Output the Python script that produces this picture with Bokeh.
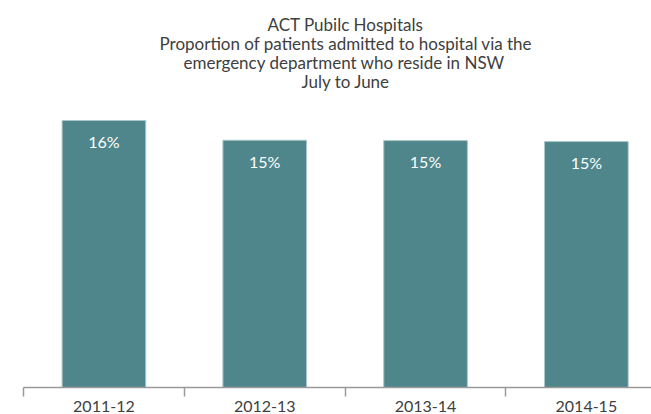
from bokeh.plotting import figure
from bokeh.models import ColumnDataSource, FixedTicker, LabelSet, Range1d, Title
from bokeh.core.properties import value
from bokeh.embed import file_html
from bokeh.resources import INLINE

# ---- data ----
years = ["2011-12", "2012-13", "2013-14", "2014-15"]
share_nsw = [0.162, 0.150, 0.1498, 0.1492]
title_lines = [
    "ACT Pubilc Hospitals",
    "Proportion of patients admitted to hospital via the",
    "emergency department who reside in NSW",
    "July to June",
]

BAR = "#4E868B"
TXT = "#404040"
FONT = "Lato"

pos = [i + 0.5 for i in range(len(years))]
labels = [f"{round(v * 100)}%" for v in share_nsw]
src = ColumnDataSource(dict(x=pos, top=share_nsw, label=labels))

p = figure(width=651, height=414, output_backend="svg", toolbar_location=None,
           x_range=Range1d(0, 3.905), y_range=Range1d(0, 0.1808),
           y_axis_location=None, title=None,
           min_border_left=23, min_border_right=0, min_border_top=89,
           min_border_bottom=0)
p.outline_line_color = None
p.xgrid.grid_line_color = None
p.ygrid.grid_line_color = None
p.background_fill_color = "white"
p.border_fill_color = "white"

title_offsets = [244, 136, 160, 278]
for line, off in reversed(list(zip(title_lines, title_offsets))):
    p.add_layout(Title(text=line, align="left", offset=off, text_font=FONT,
                       text_font_size="17px", text_font_style="normal",
                       text_color=TXT, standoff=-4), "above")

p.vbar(x="x", top="top", bottom=0, width=0.52, source=src,
       fill_color=BAR, line_color="#A9C6C8", line_width=1)

p.add_layout(LabelSet(x="x", y="top", text="label", source=src,
                      text_align="center", text_baseline="middle",
                      y_offset=-21, text_color="white",
                      text_font=value(FONT), text_font_size="16px"))

ax = p.xaxis[0]
ax.ticker = FixedTicker(ticks=pos, minor_ticks=list(range(len(years) + 1)))
ax.major_label_overrides = {x: y for x, y in zip(pos, years)}
ax.major_tick_line_color = None
ax.major_tick_out = 0
ax.major_tick_in = 0
ax.minor_tick_out = 0
ax.minor_tick_in = -9
ax.minor_tick_line_color = "#9A9A9A"
ax.minor_tick_line_width = 1.5
ax.axis_line_color = "#9A9A9A"
ax.axis_line_width = 1.5
ax.major_label_standoff = 13
ax.major_label_text_font = FONT
ax.major_label_text_font_size = "16px"
ax.major_label_text_color = TXT

open("out.html", "w").write(file_html(p, INLINE))
